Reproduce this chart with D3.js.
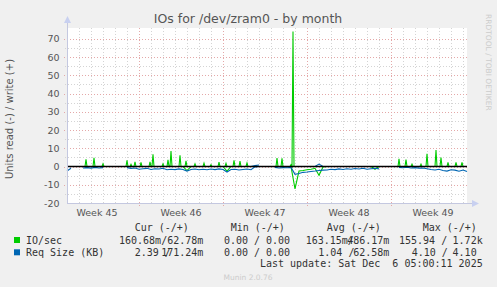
<!DOCTYPE html>
<html>
<head>
<meta charset="utf-8">
<script src="https://cdn.jsdelivr.net/npm/d3@7"></script>
<style>
    html, body { margin: 0; padding: 0; background: #f0f0f0; }
    svg { display: block; }
    text { font-family: "DejaVu Sans", sans-serif; }
    .mono { font-family: "DejaVu Sans Mono", monospace; }
</style>
</head>
<body>
<div id="chart"></div>
<script>
/* IOs for /dev/zram0 - by month (munin style graph) */

// DATA ///////////////////////////////////////////////////////////////////////
const graphStart = new Date(2025, 10, 4, 0, 0);   // left edge of the plot
const graphHours = 800;                           // width of the plot in hours
const sampleHours = 8;                            // spacing of the arrays below

// Req Size (KB), read side (drawn below zero), one value per 8 hours
const readReqSize = [
    2.5, 1.0, null, null, 0.8, 0.6, 0.9, 0.5, 0.8, 0.6,
    null, null, null, null, null, 0.6, 1.0, 0.8, 1.5, 1.2,
    1.0, 1.6, 1.2, 1.4, 1.0, 1.8, 1.5, 1.7, 1.3, 1.6,
    2.5, 1.6, 1.4, 1.8, 1.5, 1.8, 1.4, 1.7, 1.3, 1.6,
    3.0, 1.6, 1.5, 1.9, 1.6, 1.4, 1.8, 0.2, 0.0, null,
    null, null, 0.5, 0.8, 0.6, 0.7, 0.5, 4.3, 3.8, 3.2,
    3.0, 2.7, 2.5, 2.2, 2.0, 1.9, 1.5, 1.7, 1.3, 1.6,
    1.2, 1.5, 1.1, 1.4, 1.0, 1.5, 1.2, 1.0, 1.3, null,
    null, null, null, 0.5, 0.7, 0.4, 0.8, 0.6, 0.9, 0.8,
    1.2, 1.6, 1.9, 1.5, 2.2, 2.5, 1.8, 2.0, 2.6, 1.9, 2.8
];
// Req Size (KB), write side
const writeReqSize = [
    0, 0, null, null, 0, 0, 0, 0, 0, 0,
    null, null, null, null, null, 0, 0, 0, 0, 0,
    0, 0, 0, 0, 0, 0, 0, 0, 0, 0,
    0, 0, 0, 0, 0, 0, 0, 0, 0, 0,
    0, 0, 0, 0, 0, 0, 0, 0.5, 0.8, null,
    null, null, 0, 0, 0, 0, 0, 0, 0, 0,
    0, 0, 0, 1.3, 0, 0, 0, 0, 0, 0,
    0, 0, 0, 0, 0, 0, 0, 0, 0, null,
    null, null, null, 0, 0, 0, 0, 0, 0, 0,
    0, 0, 0, 0, 0, 0, 0, 0, 0, 0, 0
];
// IO/sec, read side (drawn below zero)
const readIOs = [
    0, 0, 0, 0, 0, 0, 0, 0, 0, 0,
    0, 0, 0, 0, 0, 0, 0, 0, 0, 0,
    0, 0, 0, 0, 0, 0, 0, 0, 0, 0,
    2.2, 0, 0, 0, 0, 0, 0, 0, 0, 0,
    2.5, 0, 0, 0, 0, 0, 0, 0, 0, 0,
    0, 0, 0, 0, 0, 0, 0, 12.3, 2.5, 2.2,
    1.8, 1.5, 1.0, 4.8, 0.3, 0, 0, 0, 0, 0,
    0, 0, 0, 0, 0, 0, 0, 1.5, 0, 0,
    0, 0, 0, 0, 0, 0, 0, 0, 0, 0,
    0, 0, 0, 0, 0, 0, 0, 0, 0, 0, 0
];
// IO/sec, write side: bursts as [hour from graphStart, value], zero elsewhere
const writeIOBursts = [
    [38, 4.0], [54, 4.8], [72, 1.5], [120, 3.4], [128, 1.2], [136, 2.6],
    [148, 2.3], [166, 2.5], [172, 6.7], [192, 1.5], [202, 3.6], [208, 8.5],
    [226, 6.2], [238, 3.1], [256, 1.5], [274, 1.8], [288, 1.0], [304, 2.4],
    [318, 1.7], [334, 3.4], [346, 2.9], [360, 1.9], [420, 4.6], [430, 4.5],
    [448, 1.0], [452, 74.0], [664, 4.2], [678, 3.8], [690, 1.3], [708, 1.3],
    [720, 7.0], [738, 9.0], [748, 4.9], [762, 2.2], [778, 2.2], [790, 2.2]
];

const yTicks = [-20, -10, 0, 10, 20, 30, 40, 50, 60, 70];
const weekLabels = ["Week 45", "Week 46", "Week 47", "Week 48", "Week 49"];

const legendNames = ["IO/sec", "Req Size (KB)"];
const legendColors = ["#00cc00", "#0066b3"];
const legendHeaders = ["Cur (-/+)", "Min (-/+)", "Avg (-/+)", "Max (-/+)"];
// [read part, write part] for each column
const legendRows = [
    [["160.68m/", "62.78m"], ["0.00 /", "0.00 "], ["163.15m/", "486.17m"], ["155.94 /", "1.72k"]],
    [["2.39 /", "171.24m"], ["0.00 /", "0.00 "], ["1.04 /", "62.58m"], ["4.10 /", "4.10 "]]
];
const lastUpdate = "Last update: Sat Dec  6 05:00:11 2025";


// CHART //////////////////////////////////////////////////////////////////////
(function() {
    const W = 497, H = 287;
    const plot = {left: 67, right: 467, top: 28, bottom: 203};

    const svg = d3.select("#chart").append("svg")
        .attr("width", W)
        .attr("height", H);

    const graphEnd = d3.timeHour.offset(graphStart, graphHours);
    const x = d3.scaleTime().domain([graphStart, graphEnd]).range([plot.left, plot.right]);
    const y = d3.scaleLinear().domain([-20, 75.9]).range([plot.bottom, plot.top]);

    // plot background
    svg.append("rect")
        .attr("x", plot.left).attr("y", plot.top)
        .attr("width", plot.right - plot.left).attr("height", plot.bottom - plot.top)
        .attr("fill", "#ffffff");

    // Grid
    const minorColor = "#d4d4d4", majorColor = "#e4a8a8";
    const grid = svg.append("g").attr("shape-rendering", "crispEdges");
    const mondays = d3.timeMonday.range(graphStart, graphEnd);
    const days = d3.timeDay.range(d3.timeDay.offset(graphStart, 1), graphEnd)
        .filter(d => d.getDay() !== 1);
    grid.selectAll(".vmin").data(days).enter().append("line")
        .attr("x1", d => Math.round(x(d)) + 0.5).attr("x2", d => Math.round(x(d)) + 0.5)
        .attr("y1", plot.top).attr("y2", plot.bottom + 2)
        .attr("stroke", minorColor).attr("stroke-dasharray", "1,2");
    const minorY = d3.range(-15, 75, 10);
    grid.selectAll(".hmin").data(minorY).enter().append("line")
        .attr("x1", plot.left - 2).attr("x2", plot.right)
        .attr("y1", d => Math.round(y(d)) + 0.5).attr("y2", d => Math.round(y(d)) + 0.5)
        .attr("stroke", minorColor).attr("stroke-dasharray", "1,2");
    grid.selectAll(".vmaj").data(mondays).enter().append("line")
        .attr("x1", d => Math.round(x(d)) + 0.5).attr("x2", d => Math.round(x(d)) + 0.5)
        .attr("y1", plot.top).attr("y2", plot.bottom + 3)
        .attr("stroke", majorColor).attr("stroke-dasharray", "1,2");
    grid.selectAll(".hmaj").data(yTicks.filter(v => v !== -20)).enter().append("line")
        .attr("x1", plot.left - 3).attr("x2", plot.right)
        .attr("y1", d => Math.round(y(d)) + 0.5).attr("y2", d => Math.round(y(d)) + 0.5)
        .attr("stroke", majorColor).attr("stroke-dasharray", "1,2");

    // Series
    const tAt = i => d3.timeHour.offset(graphStart, i * sampleHours);
    const lineGen = sign => d3.line()
        .defined(d => d != null)
        .x((d, i) => x(tAt(i)))
        .y(d => y(sign * d));

    const burstMap = new Map(writeIOBursts);
    const writeIOs = d3.range(0, graphHours + 1, 2).map(h => [h, burstMap.get(h) || 0]);
    const writeLine = d3.line()
        .x(d => x(d3.timeHour.offset(graphStart, d[0])))
        .y(d => y(d[1]));

    const series = svg.append("g").attr("fill", "none").attr("stroke-width", 1.1);
    series.append("path").datum(readIOs)
        .attr("d", lineGen(-1)).attr("stroke", legendColors[0]);
    series.append("path").datum(writeIOs)
        .attr("d", writeLine).attr("stroke", legendColors[0]);
    series.append("path").datum(writeReqSize)
        .attr("d", lineGen(1)).attr("stroke", legendColors[1]);
    series.append("path").datum(readReqSize)
        .attr("d", lineGen(-1)).attr("stroke", legendColors[1]);

    // zero rule
    svg.append("line")
        .attr("x1", plot.left).attr("x2", plot.right)
        .attr("y1", y(0)).attr("y2", y(0))
        .attr("stroke", "#000").attr("stroke-width", 1.5);

    // Axes
    const axisColor = "#c4c8e0";
    svg.append("line")
        .attr("x1", plot.left + 0.5).attr("x2", plot.left + 0.5)
        .attr("y1", plot.top - 6).attr("y2", plot.bottom + 1)
        .attr("stroke", axisColor);
    svg.append("line")
        .attr("x1", plot.left).attr("x2", plot.right + 6)
        .attr("y1", plot.bottom + 0.5).attr("y2", plot.bottom + 0.5)
        .attr("stroke", axisColor);
    svg.append("path")
        .attr("d", `M${plot.left - 3},${plot.top - 5} L${plot.left + 0.5},${plot.top - 12} L${plot.left + 4},${plot.top - 5} Z`)
        .attr("fill", "#c8d0f0");
    svg.append("path")
        .attr("d", `M${plot.right + 5},${plot.bottom - 3} L${plot.right + 12},${plot.bottom + 0.5} L${plot.right + 5},${plot.bottom + 4} Z`)
        .attr("fill", "#c8d0f0");

    // Y tick labels
    svg.selectAll(".ylab").data(yTicks).enter().append("text")
        .attr("x", plot.left - 7.5)
        .attr("y", d => y(d) + 3.5)
        .attr("text-anchor", "end")
        .attr("font-size", "9.5px")
        .attr("fill", "#555")
        .text(d => d);

    // X labels, centred in each ISO week
    const weekStarts = d3.timeMonday.range(d3.timeMonday.floor(graphStart), graphEnd);
    svg.selectAll(".xlab").data(weekStarts).enter().append("text")
        .attr("x", d => x(d3.timeHour.offset(d, 84)))
        .attr("y", 216)
        .attr("text-anchor", "middle")
        .attr("font-size", "9.5px")
        .attr("fill", "#555")
        .text((d, i) => weekLabels[i]);

    // Title and side texts
    svg.append("text")
        .attr("x", 248).attr("y", 23)
        .attr("text-anchor", "middle")
        .attr("font-size", "12.5px")
        .attr("fill", "#555")
        .text("IOs for /dev/zram0 - by month");
    svg.append("text")
        .attr("transform", "translate(13,119) rotate(-90)")
        .attr("text-anchor", "middle")
        .attr("font-size", "10px")
        .attr("fill", "#555")
        .text("Units read (-) / write (+)");
    svg.append("text")
        .attr("transform", "translate(486,14) rotate(90)")
        .attr("font-size", "7.5px")
        .attr("fill", "#cccccc")
        .text("RRDTOOL / TOBI OETIKER");

    // Legend
    const legend = svg.append("g").attr("class", "mono")
        .attr("font-size", "10px").attr("fill", "#333");
    const headX = [134.7, 230.7, 326.7, 422.7];
    legend.selectAll(".hdr").data(legendHeaders).enter().append("text")
        .attr("class", "mono")
        .attr("x", (d, i) => headX[i]).attr("y", 231)
        .text(d => d);

    const rowY = [243.5, 255.8];
    const leftX = [[119, 224, 305.7, 399], [134.7, 224, 318.3, 411.7]];
    const rightX = [203.3, 296, 389.3, 482.7];
    legendRows.forEach((row, r) => {
        legend.append("rect")
            .attr("x", 14).attr("y", rowY[r] - 6.5)
            .attr("width", 6).attr("height", 6)
            .attr("fill", legendColors[r]);
        legend.append("text").attr("class", "mono")
            .attr("x", 26).attr("y", rowY[r])
            .text(legendNames[r]);
        row.forEach((cell, c) => {
            legend.append("text").attr("class", "mono")
                .attr("x", leftX[r][c]).attr("y", rowY[r])
                .style("white-space", "pre")
                .text(cell[0]);
            legend.append("text").attr("class", "mono")
                .attr("x", rightX[c]).attr("y", rowY[r])
                .attr("text-anchor", "end")
                .style("white-space", "pre")
                .text(cell[1]);
        });
    });
    legend.append("text").attr("class", "mono")
        .attr("x", 482.7).attr("y", 267)
        .attr("text-anchor", "end")
        .style("white-space", "pre")
        .text(lastUpdate);

    svg.append("text")
        .attr("x", 248).attr("y", 279.5)
        .attr("text-anchor", "middle")
        .attr("font-size", "7.5px")
        .attr("fill", "#cccccc")
        .text("Munin 2.0.76");
})();
</script>
</body>
</html>
